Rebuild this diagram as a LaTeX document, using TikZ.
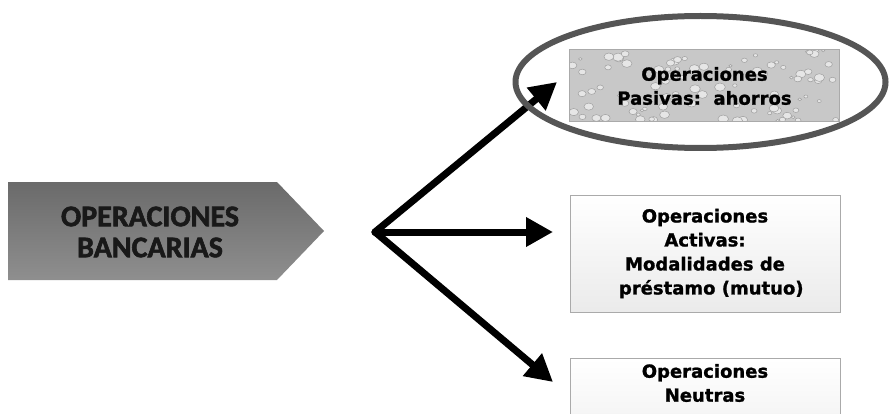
\documentclass[tikz,border=0pt]{standalone}
\usepackage{fontspec}
\newfontfamily\calibfont{Carlito}[BoldFeatures={FakeBold=2}]
\newfontfamily\verdfont{DejaVu Sans}[BoldFeatures={FakeBold=1.2}]
\usetikzlibrary{arrows.meta,calc}
\definecolor{bancgray}{RGB}{118,118,118}
\definecolor{ringgray}{RGB}{85,85,85}
\definecolor{boxline}{RGB}{170,170,170}
\definecolor{dropgray}{RGB}{200,200,200}
\tikzset{
  opbox/.style={draw=boxline, line width=1pt, minimum width=270pt, inner sep=0pt},
  optext/.style={font=\verdfont\bfseries\fontsize{18}{24}\selectfont, align=center, text=black},
  bigarrow/.style={line width=7pt, line cap=round, -{Triangle[length=27pt,width=28pt]}},
}
\begin{document}
\begin{tikzpicture}[x=1pt,y=-1pt]
    \useasboundingbox (0,0) rectangle (890,414);
    \clip (0,0) rectangle (890,414);

    \shade[top color=bancgray!90!black, bottom color=bancgray!82!white]
      (8,182) -- (277,182) -- (324,231) -- (277,280) -- (8,280) -- cycle;
    \node[font=\calibfont\bfseries\fontsize{30}{31}\selectfont, align=center, text=black!90] (banc) at (150,232) {OPERACIONES\\BANCARIAS};

    \pgfmathsetseed{12}
    \node[opbox, fill=dropgray, minimum height=72pt, optext,
      path picture={
        \foreach \i in {1,...,90} {
          \pgfmathsetmacro\dx{271*rnd}
          \pgfmathsetmacro\dy{72*rnd}
          \pgfmathsetmacro\dr{1.5+4*rnd}
          \draw[gray!75, fill=white!55!dropgray, line width=0.5pt]
            ($(path picture bounding box.north west)+(\dx,\dy)$) ellipse [x radius=\dr, y radius=0.75*\dr];
        }
      }] (pasivas) at (704.5,86) {Operaciones\\Pasivas:~~ahorros};

    \node[opbox, top color=white, bottom color=gray!16, minimum height=117pt, optext] (activas) at (705,253.5)
      {Operaciones\\Activas:\\Modalidades de\\~~pr\'estamo (mutuo)};

    \node[opbox, top color=white, bottom color=gray!16, minimum height=117pt, anchor=north] (neutras) at (705,358) {};
    \node[optext] (neutrastxt) at (705,383) {Operaciones\\Neutras};

    \coordinate (hub) at (375,232);
    \coordinate (tipP) at (557,82);
    \coordinate (tipA) at (553,232);
    \coordinate (tipN) at (553,382);
    \draw[bigarrow] (hub) -- (tipP);
    \draw[bigarrow] (hub) -- (tipA);
    \draw[bigarrow] (hub) -- (tipN);

    \draw[ringgray, line width=6pt] (700.5,82) ellipse [x radius=185, y radius=66];
\end{tikzpicture}
\end{document}
